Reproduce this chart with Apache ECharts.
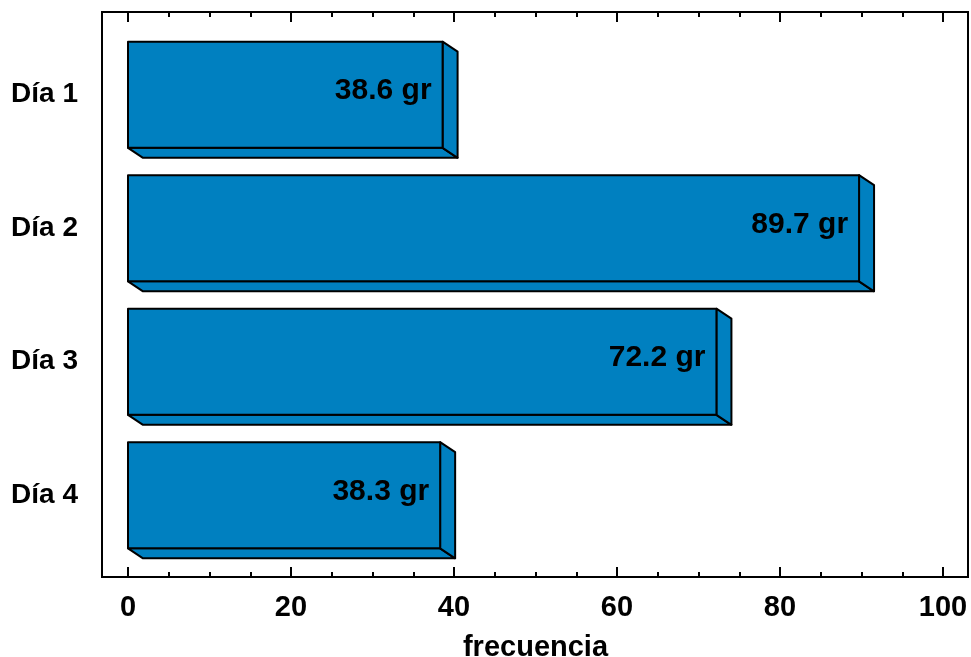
<!DOCTYPE html>
<html>
<head>
<meta charset="utf-8">
<script src="https://cdn.jsdelivr.net/npm/echarts@6/dist/echarts.min.js"></script>
<style>
  html, body { margin: 0; padding: 0; background: #fff; }
  #chart { width: 971px; height: 657px; }
</style>
</head>
<body>
<div id="chart"></div>
<script>
// Daily weights per day
const categories = ['Día 1', 'Día 2', 'Día 3', 'Día 4'];
const weights = [38.6, 89.7, 72.2, 38.3];
const unit = 'gr';
const axisTitle = 'frecuencia';

const FONT = '"Liberation Sans", Arial, sans-serif';
const BAR_COLOR = '#0080C0';
const DEPTH_X = 15;
const DEPTH_Y = 10;

// Extruded bar: front face, bottom face and right side face
function renderBar(params, api) {
  const value = api.value(0);
  const catIdx = api.value(1);
  const end = api.coord([value, catIdx]);
  const start = api.coord([0, catIdx]);
  const band = api.size([0, 1])[1];
  const h = band * 0.795;
  const top = end[1] - h / 2;
  const bottom = top + h;
  const x0 = start[0];
  const x1 = end[0];
  const edge = { fill: BAR_COLOR, stroke: '#000', lineWidth: 2, lineJoin: 'round' };
  return {
    type: 'group',
    children: [
      {
        type: 'polygon',
        shape: { points: [[x0, bottom], [x1, bottom], [x1 + DEPTH_X, bottom + DEPTH_Y], [x0 + DEPTH_X, bottom + DEPTH_Y]] },
        style: edge
      },
      {
        type: 'polygon',
        shape: { points: [[x1, top], [x1 + DEPTH_X, top + DEPTH_Y], [x1 + DEPTH_X, bottom + DEPTH_Y], [x1, bottom]] },
        style: edge
      },
      {
        type: 'rect',
        shape: { x: x0, y: top, width: x1 - x0, height: h },
        style: edge
      },
      {
        type: 'text',
        style: {
          text: value.toFixed(1) + ' ' + unit,
          x: x1 - 11,
          y: end[1] - 4,
          align: 'right',
          verticalAlign: 'middle',
          fill: '#000',
          font: 'bold 30px ' + FONT
        }
      }
    ]
  };
}

const chart = echarts.init(document.getElementById('chart'), null, { renderer: 'canvas' });

const tickAxisBase = {
  type: 'value',
  min: 0,
  max: 100,
  interval: 20,
  axisLine: { show: false },
  splitLine: { show: false },
  axisTick: { show: true, inside: true, length: 10, lineStyle: { color: '#000', width: 2 } },
  minorTick: { show: true, splitNumber: 4, length: 5, lineStyle: { color: '#000', width: 2 } }
};

chart.setOption({
  animation: false,
  backgroundColor: '#fff',
  grid: { left: 128, right: 28, top: 28, bottom: 95, containLabel: false, outerBoundsMode: 'none' },
  graphic: [
    {
      type: 'rect',
      shape: { x: 102, y: 12, width: 866, height: 565 },
      style: { fill: 'none', stroke: '#000', lineWidth: 2 },
      z: 10
    }
  ],
  xAxis: [
    Object.assign({}, tickAxisBase, {
      position: 'bottom',
      offset: 15,
      name: axisTitle,
      nameLocation: 'middle',
      nameGap: 56,
      nameTextStyle: { color: '#000', fontSize: 29, fontWeight: 'bold', fontFamily: FONT },
      axisLabel: { show: true, margin: 16, color: '#000', fontSize: 29, fontWeight: 'bold', fontFamily: FONT }
    }),
    Object.assign({}, tickAxisBase, {
      position: 'top',
      offset: 16,
      axisLabel: { show: false }
    })
  ],
  yAxis: {
    type: 'category',
    data: categories,
    inverse: true,
    axisLine: { show: false },
    axisTick: { show: false },
    splitLine: { show: false },
    axisLabel: {
      margin: 50,
      color: '#000',
      fontSize: 28,
      fontWeight: 'bold',
      fontFamily: FONT,
      padding: [0, 0, 6, 0]
    }
  },
  series: [
    {
      type: 'custom',
      renderItem: renderBar,
      xAxisIndex: 0,
      encode: { x: 0, y: 1 },
      data: weights.map((w, i) => [w, i])
    }
  ]
});
</script>
</body>
</html>
